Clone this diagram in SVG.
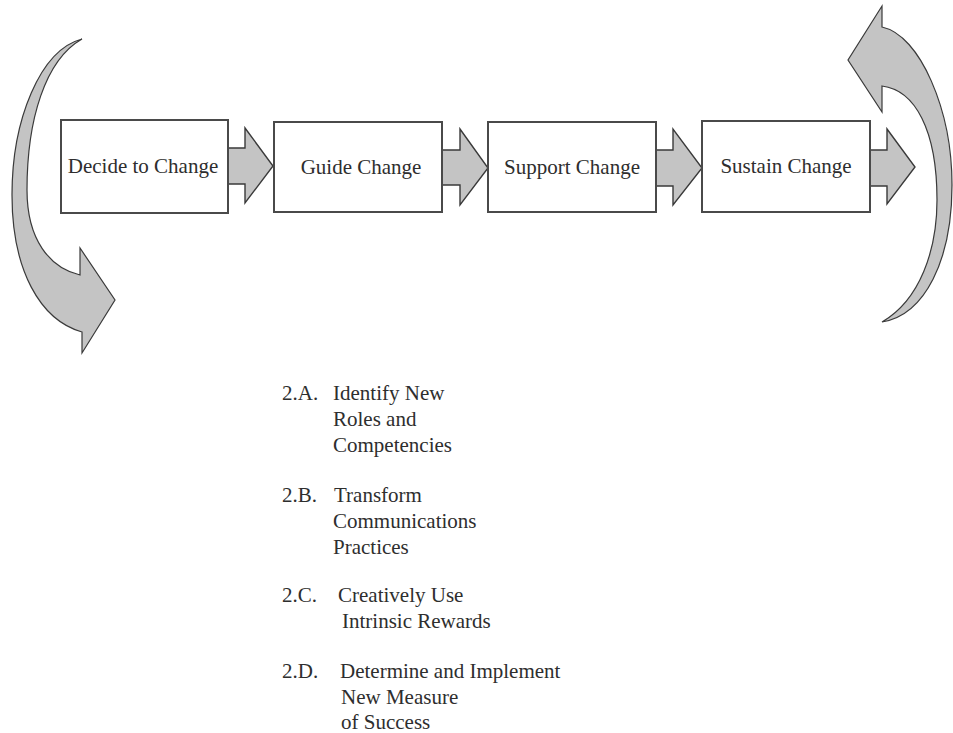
<svg xmlns="http://www.w3.org/2000/svg" width="953" height="733" viewBox="0 0 953 733">
  <style>
    .box { fill: #ffffff; stroke: #4a4a4a; stroke-width: 2; }
    .flow { fill: #c4c4c4; stroke: #3a3a3a; stroke-width: 1.4; stroke-linejoin: miter; }
    .loop { fill: #c4c4c4; stroke: #3a3a3a; stroke-width: 1.2; stroke-linejoin: miter; }
    .label { font-family: "Liberation Serif", "Times New Roman", serif; font-size: 21px; fill: #2e2e2e; }
    .mid { text-anchor: middle; }
  </style>

  <!-- curved loop arrows at both ends -->
  <g id="loop-in">
    <path class="loop" d="M 82,39 C 40,50 12,120 12,195 C 12,270 40,320 82,332 L 82,353 L 115,300 L 80,248 L 80,275 C 50,268 27,240 27,190 C 27,120 45,60 82,39 Z"/>
  </g>
  <g id="loop-out">
    <path class="loop" d="M 882,27 C 920,35 952,110 952,185 C 952,260 925,315 882,322 C 920,300 937,250 937,200 C 937,130 915,90 882,86 L 882,112 L 848,60 L 882,6 Z"/>
  </g>

  <!-- block arrows between the steps -->
  <g id="connectors">
    <path class="flow" d="M 228,148 L 245,148 L 245,128 L 273,166 L 245,203 L 245,184 L 228,184 Z"/>
    <path class="flow" d="M 442,150 L 460,150 L 460,129 L 488,168 L 460,205 L 460,185 L 442,185 Z"/>
    <path class="flow" d="M 656,150 L 673,150 L 673,129 L 702,168 L 673,205 L 673,186 L 656,186 Z"/>
    <path class="flow" d="M 870,150 L 887,150 L 887,129 L 915,167 L 887,204 L 887,186 L 870,186 Z"/>
  </g>

  <!-- process steps -->
  <g id="step-decide">
    <rect class="box" x="61" y="120" width="167" height="93"/>
    <text class="label mid" x="143" y="173">Decide to Change</text>
  </g>
  <g id="step-guide">
    <rect class="box" x="274" y="122" width="168" height="90"/>
    <text class="label mid" x="361" y="174">Guide Change</text>
  </g>
  <g id="step-support">
    <rect class="box" x="488" y="122" width="168" height="90"/>
    <text class="label mid" x="572" y="174">Support Change</text>
  </g>
  <g id="step-sustain">
    <rect class="box" x="702" y="121" width="168" height="91"/>
    <text class="label mid" x="786" y="173">Sustain Change</text>
  </g>

  <!-- sub-steps of Guide Change -->
  <g id="substeps">
    <text class="label" x="282" y="400">2.A.</text>
    <text class="label" x="333" y="400">Identify New</text>
    <text class="label" x="333" y="426">Roles and</text>
    <text class="label" x="333" y="452">Competencies</text>

    <text class="label" x="282" y="502">2.B.</text>
    <text class="label" x="334" y="502">Transform</text>
    <text class="label" x="333" y="528">Communications</text>
    <text class="label" x="333" y="554">Practices</text>

    <text class="label" x="282" y="602">2.C.</text>
    <text class="label" x="338" y="602">Creatively Use</text>
    <text class="label" x="342" y="628">Intrinsic Rewards</text>

    <text class="label" x="282" y="678">2.D.</text>
    <text class="label" x="340" y="678">Determine and Implement</text>
    <text class="label" x="341" y="704">New Measure</text>
    <text class="label" x="341" y="729">of Success</text>
  </g>
</svg>
